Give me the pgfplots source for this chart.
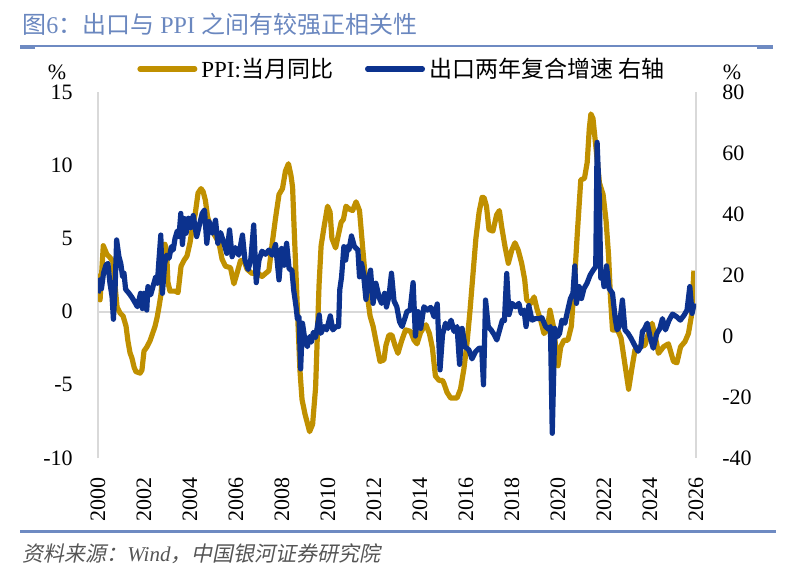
\documentclass[border=0pt]{standalone}
\usepackage{fontspec}
\usepackage{pgfplots}
\usepackage{pgfplotstable}
\pgfplotsset{compat=1.18}
\setmainfont{Liberation Serif}
\newfontfamily\cjk{Noto Sans CJK SC}
\newfontfamily\cjkit{Noto Sans CJK SC}[FakeSlant=0.2]

\definecolor{ppigold}{RGB}{192,144,0}
\definecolor{expnavy}{RGB}{12,50,142}
\definecolor{framegray}{RGB}{217,217,217}
\definecolor{titleblue}{RGB}{106,135,191}
\definecolor{ruleblue}{RGB}{110,138,194}
\definecolor{srcgray}{RGB}{85,85,85}

% PPI, year-on-year (%), left axis
\pgfplotstableread{
t v
2000.00 2.6
2000.09 0.8
2000.23 4.5
2000.39 3.9
2000.52 3.7
2000.65 3.4
2000.74 1.8
2000.83 0.3
2000.96 -0.1
2001.09 -0.3
2001.22 -1.0
2001.30 -2.0
2001.39 -2.8
2001.48 -3.2
2001.57 -3.8
2001.65 -4.1
2001.83 -4.2
2001.91 -4.0
2002.00 -2.7
2002.13 -2.4
2002.26 -2.0
2002.35 -1.6
2002.48 -1.0
2002.57 -0.4
2002.65 0.3
2002.74 1.2
2002.83 3.1
2002.91 4.6
2002.98 4.2
2003.04 2.0
2003.13 1.4
2003.35 1.4
2003.48 1.3
2003.61 3.1
2003.74 3.5
2003.87 3.8
2004.00 4.7
2004.13 6.0
2004.22 6.6
2004.35 8.1
2004.48 8.4
2004.57 8.2
2004.67 7.6
2004.76 6.5
2004.89 5.8
2005.04 5.3
2005.26 4.7
2005.39 3.6
2005.54 3.1
2005.76 3.0
2005.91 1.9
2006.04 2.6
2006.20 3.5
2006.35 3.5
2006.48 2.9
2006.70 2.6
2006.91 2.7
2007.13 2.4
2007.28 2.6
2007.43 2.8
2007.57 4.6
2007.72 6.4
2007.87 8.0
2008.02 8.4
2008.15 9.6
2008.28 10.1
2008.39 9.3
2008.46 8.5
2008.52 6.0
2008.61 2.5
2008.70 -1.0
2008.78 -4.0
2008.87 -6.0
2009.00 -7.0
2009.20 -8.2
2009.33 -7.7
2009.46 -5.2
2009.54 -1.5
2009.61 1.8
2009.70 4.5
2009.83 5.8
2009.98 7.2
2010.09 6.8
2010.17 5.0
2010.33 4.35
2010.46 5.3
2010.57 6.1
2010.67 6.3
2010.78 7.2
2010.93 7.0
2011.07 6.9
2011.22 7.5
2011.37 6.9
2011.50 4.5
2011.65 1.8
2011.83 -0.3
2011.96 -1.0
2012.11 -2.2
2012.26 -3.4
2012.43 -3.3
2012.52 -2.3
2012.65 -1.6
2012.78 -1.6
2012.91 -2.3
2013.04 -2.85
2013.20 -2.0
2013.37 -1.25
2013.59 -1.35
2013.74 -1.95
2013.87 -2.2
2014.02 -1.45
2014.15 -1.1
2014.26 -0.9
2014.41 -1.5
2014.54 -2.5
2014.67 -4.4
2014.83 -4.7
2014.98 -4.7
2015.04 -4.9
2015.17 -5.5
2015.33 -5.9
2015.61 -5.9
2015.76 -5.3
2015.91 -3.9
2016.04 -2.2
2016.17 0.0
2016.30 2.5
2016.43 5.0
2016.57 6.8
2016.70 7.8
2016.78 7.8
2016.89 7.2
2017.00 5.6
2017.17 5.5
2017.33 6.6
2017.45 6.9
2017.55 5.8
2017.70 4.4
2017.84 3.3
2017.99 4.2
2018.13 4.7
2018.27 4.2
2018.42 3.3
2018.55 2.2
2018.64 0.8
2018.81 0.55
2018.96 1.0
2019.10 0.1
2019.25 -0.6
2019.39 -1.5
2019.53 -1.25
2019.65 0.1
2019.80 -1.0
2019.90 -2.4
2020.00 -3.7
2020.12 -2.4
2020.26 -1.95
2020.43 -1.95
2020.58 -1.0
2020.70 1.7
2020.84 5.35
2020.99 9.0
2021.15 9.1
2021.27 10.2
2021.36 12.5
2021.43 13.5
2021.52 13.2
2021.65 11.2
2021.80 8.8
2021.96 8.0
2022.09 6.2
2022.20 3.8
2022.28 1.0
2022.37 -1.25
2022.59 -1.25
2022.74 -1.8
2022.89 -3.4
2023.07 -5.3
2023.22 -3.8
2023.35 -2.6
2023.57 -2.4
2023.78 -2.3
2023.91 -1.6
2024.09 -0.8
2024.24 -1.8
2024.37 -2.85
2024.59 -2.4
2024.80 -2.2
2025.02 -3.4
2025.17 -3.5
2025.33 -2.4
2025.52 -2.05
2025.67 -1.5
2025.80 -0.3
2025.91 2.8
}\ppidata

% Exports, two-year compound growth (%), right axis
\pgfplotstableread{
t v
2000.00 14.0
2000.09 18.4
2000.15 15.5
2000.24 20.6
2000.35 23.3
2000.43 23.8
2000.52 17.3
2000.61 13.0
2000.67 5.5
2000.74 15.1
2000.81 31.5
2000.91 26.0
2000.99 23.8
2001.07 19.4
2001.13 20.6
2001.20 15.3
2001.35 14.0
2001.48 12.6
2001.63 10.7
2001.71 9.6
2001.85 14.0
2001.93 9.0
2002.00 14.0
2002.12 8.5
2002.17 16.2
2002.29 13.5
2002.40 16.5
2002.51 19.4
2002.58 17.3
2002.65 24.9
2002.73 33.1
2002.80 14.0
2002.90 23.8
2002.98 26.5
2003.09 25.5
2003.19 29.3
2003.27 28.2
2003.35 32.0
2003.45 34.5
2003.52 32.6
2003.60 40.2
2003.67 30.0
2003.76 38.5
2003.83 33.7
2003.93 38.6
2004.02 35.5
2004.14 39.5
2004.29 32.6
2004.39 35.8
2004.53 40.2
2004.63 41.3
2004.73 30.4
2004.83 37.5
2004.97 33.7
2005.11 38.0
2005.21 30.4
2005.33 33.9
2005.46 30.8
2005.60 27.1
2005.72 34.8
2005.83 26.0
2005.97 29.0
2006.12 26.5
2006.28 33.1
2006.39 24.9
2006.53 21.8
2006.64 24.9
2006.77 36.4
2006.88 17.5
2007.00 24.9
2007.13 27.8
2007.28 26.8
2007.43 28.2
2007.57 26.5
2007.72 30.0
2007.87 18.4
2007.98 28.7
2008.09 23.2
2008.20 30.4
2008.31 22.0
2008.43 21.6
2008.51 15.0
2008.61 9.6
2008.67 5.5
2008.74 6.3
2008.81 -10.8
2008.89 4.2
2008.98 -0.5
2009.10 -3.5
2009.20 -0.2
2009.28 -2.0
2009.36 1.2
2009.46 -0.5
2009.62 6.9
2009.69 0.9
2009.83 3.1
2009.94 2.0
2010.10 6.6
2010.21 2.0
2010.35 3.1
2010.46 3.1
2010.51 15.1
2010.59 19.4
2010.69 29.3
2010.77 24.9
2010.84 29.3
2010.91 28.2
2011.02 32.8
2011.15 29.3
2011.30 28.2
2011.37 19.4
2011.46 23.8
2011.54 20.6
2011.65 12.0
2011.74 18.4
2011.85 21.6
2011.96 10.7
2012.08 17.3
2012.23 12.5
2012.33 10.7
2012.46 14.0
2012.54 9.5
2012.65 13.0
2012.76 20.6
2012.87 11.5
2012.99 9.6
2013.11 4.7
2013.22 3.1
2013.33 5.5
2013.43 8.0
2013.57 8.5
2013.70 17.5
2013.80 0.0
2013.91 8.0
2014.03 2.5
2014.17 9.6
2014.32 8.5
2014.47 9.4
2014.61 6.3
2014.75 10.5
2014.87 -11.1
2014.98 0.5
2015.11 4.2
2015.22 2.5
2015.35 5.2
2015.48 1.5
2015.61 3.1
2015.72 -9.3
2015.83 2.5
2015.96 -3.5
2016.13 -4.6
2016.26 -7.5
2016.41 -5.2
2016.57 -4.0
2016.68 -4.0
2016.76 -16.0
2016.85 11.8
2016.97 3.0
2017.09 2.0
2017.22 0.5
2017.34 -1.3
2017.48 2.5
2017.58 5.2
2017.67 5.0
2017.77 20.5
2017.87 7.0
2018.00 10.7
2018.15 9.6
2018.30 10.7
2018.40 7.4
2018.52 8.5
2018.61 3.1
2018.73 10.0
2018.87 5.2
2019.02 5.7
2019.17 5.7
2019.30 6.0
2019.46 3.1
2019.59 2.2
2019.67 3.1
2019.75 -31.9
2019.86 2.5
2019.98 -0.2
2020.07 0.9
2020.17 5.2
2020.30 4.2
2020.41 8.0
2020.54 12.3
2020.65 14.0
2020.73 23.0
2020.80 10.7
2020.92 16.2
2021.02 12.3
2021.13 15.6
2021.26 17.3
2021.40 20.0
2021.53 21.6
2021.64 22.7
2021.70 63.5
2021.80 44.6
2021.86 19.0
2021.93 21.0
2022.00 16.2
2022.11 23.0
2022.22 15.6
2022.37 14.0
2022.49 5.5
2022.57 2.0
2022.66 3.0
2022.80 11.8
2022.91 2.0
2023.04 0.9
2023.18 -0.8
2023.33 -3.0
2023.48 -5.0
2023.60 -3.5
2023.67 1.5
2023.74 2.0
2023.88 4.2
2024.00 -0.2
2024.14 -4.0
2024.30 0.9
2024.43 2.5
2024.54 5.7
2024.67 2.0
2024.83 5.2
2024.98 7.2
2025.16 6.3
2025.32 5.2
2025.48 6.8
2025.61 8.5
2025.73 16.2
2025.83 7.4
2025.92 10.7
}\exportdata

\pgfplotsset{
  dualframe/.style={
    at={(49pt,58.5pt)}, anchor=south west,
    scale only axis, width=299pt, height=183pt,
    xmin=2000, xmax=2026,
    major tick length=0pt,
    y axis line style={draw=framegray, line width=1pt},
    /pgf/number format/assume math mode=true,
    /pgf/number format/1000 sep={},
    ticklabel style={font=\fontsize{11}{13}\selectfont, inner sep=0pt},
  },
}

\begin{document}
\begin{tikzpicture}
\useasboundingbox (0,0) rectangle (398pt,287.5pt);

% heading and rule
\node[anchor=base west, inner sep=0pt, text=titleblue, font=\fontsize{12}{14}\selectfont]
  at (11pt,271pt) {{\cjk 图}6{\cjk ：出口与} PPI {\cjk 之间有较强正相关性}};
\draw[ruleblue, line width=1.2pt] (10pt,264.5pt) -- (386.5pt,264.5pt);
\draw[ruleblue, line width=1pt] (10pt,263.6pt) -- (17.5pt,263.6pt);
\draw[ruleblue, line width=1pt] (378.5pt,263.6pt) -- (386.5pt,263.6pt);

% left axis: PPI
\begin{axis}[
  dualframe,
  ymin=-10, ymax=15,
  axis y line*=left, axis x line*=bottom,
  x axis line style={draw=none},
  xtick={2000,2002,...,2026},
  ytick={-10,-5,0,5,10,15},
  xticklabel style={rotate=90, anchor=east},
  xticklabel shift=9.5pt,
  yticklabel style={anchor=east},
  yticklabel shift=12.5pt,
  legend columns=2,
  legend image code/.code={\draw[#1, line cap=round] (1.3pt,0pt) -- (28.7pt,0pt);},
  legend style={at={(0.0652,1.063)}, anchor=west, draw=none, fill=none,
    inner sep=0pt, font=\fontsize{11.5}{13}\selectfont,
    nodes={inner xsep=2pt, inner ysep=0pt},
    /tikz/every even column/.append style={column sep=14pt}},
]
\addplot[framegray, line width=1pt, forget plot] coordinates {(2000,0) (2026,0)};
\addplot[ppigold, line width=2.6pt, line join=round] table[x=t, y=v] {\ppidata};
\addlegendentry{PPI:{\cjk 当月同比}}
\addlegendimage{expnavy, line width=2.6pt}
\addlegendentry{{\cjk 出口两年复合增速 右轴}}
\end{axis}

% right axis: exports
\begin{axis}[
  dualframe,
  ymin=-40, ymax=80,
  axis y line*=right, hide x axis,
  ytick={-40,-20,0,20,40,60,80},
  yticklabel style={anchor=west},
  yticklabel shift=13pt,
]
\addplot[expnavy, line width=2.6pt, line join=round] table[x=t, y=v] {\exportdata};
\end{axis}

% unit marks
\node[font=\fontsize{11}{13}\selectfont, inner sep=0pt] at (28.5pt,251.5pt) {\%};
\node[font=\fontsize{11}{13}\selectfont, inner sep=0pt] at (366pt,251.5pt) {\%};

% footer
\draw[ruleblue, line width=1.5pt] (10pt,22pt) -- (388pt,22pt);
\node[anchor=base west, inner sep=0pt, text=srcgray, font=\fontsize{10.5}{12}\selectfont]
  at (11pt,7pt) {{\cjkit 资料来源：}\textit{Wind}{\cjkit ，中国银河证券研究院}};
\end{tikzpicture}
\end{document}
